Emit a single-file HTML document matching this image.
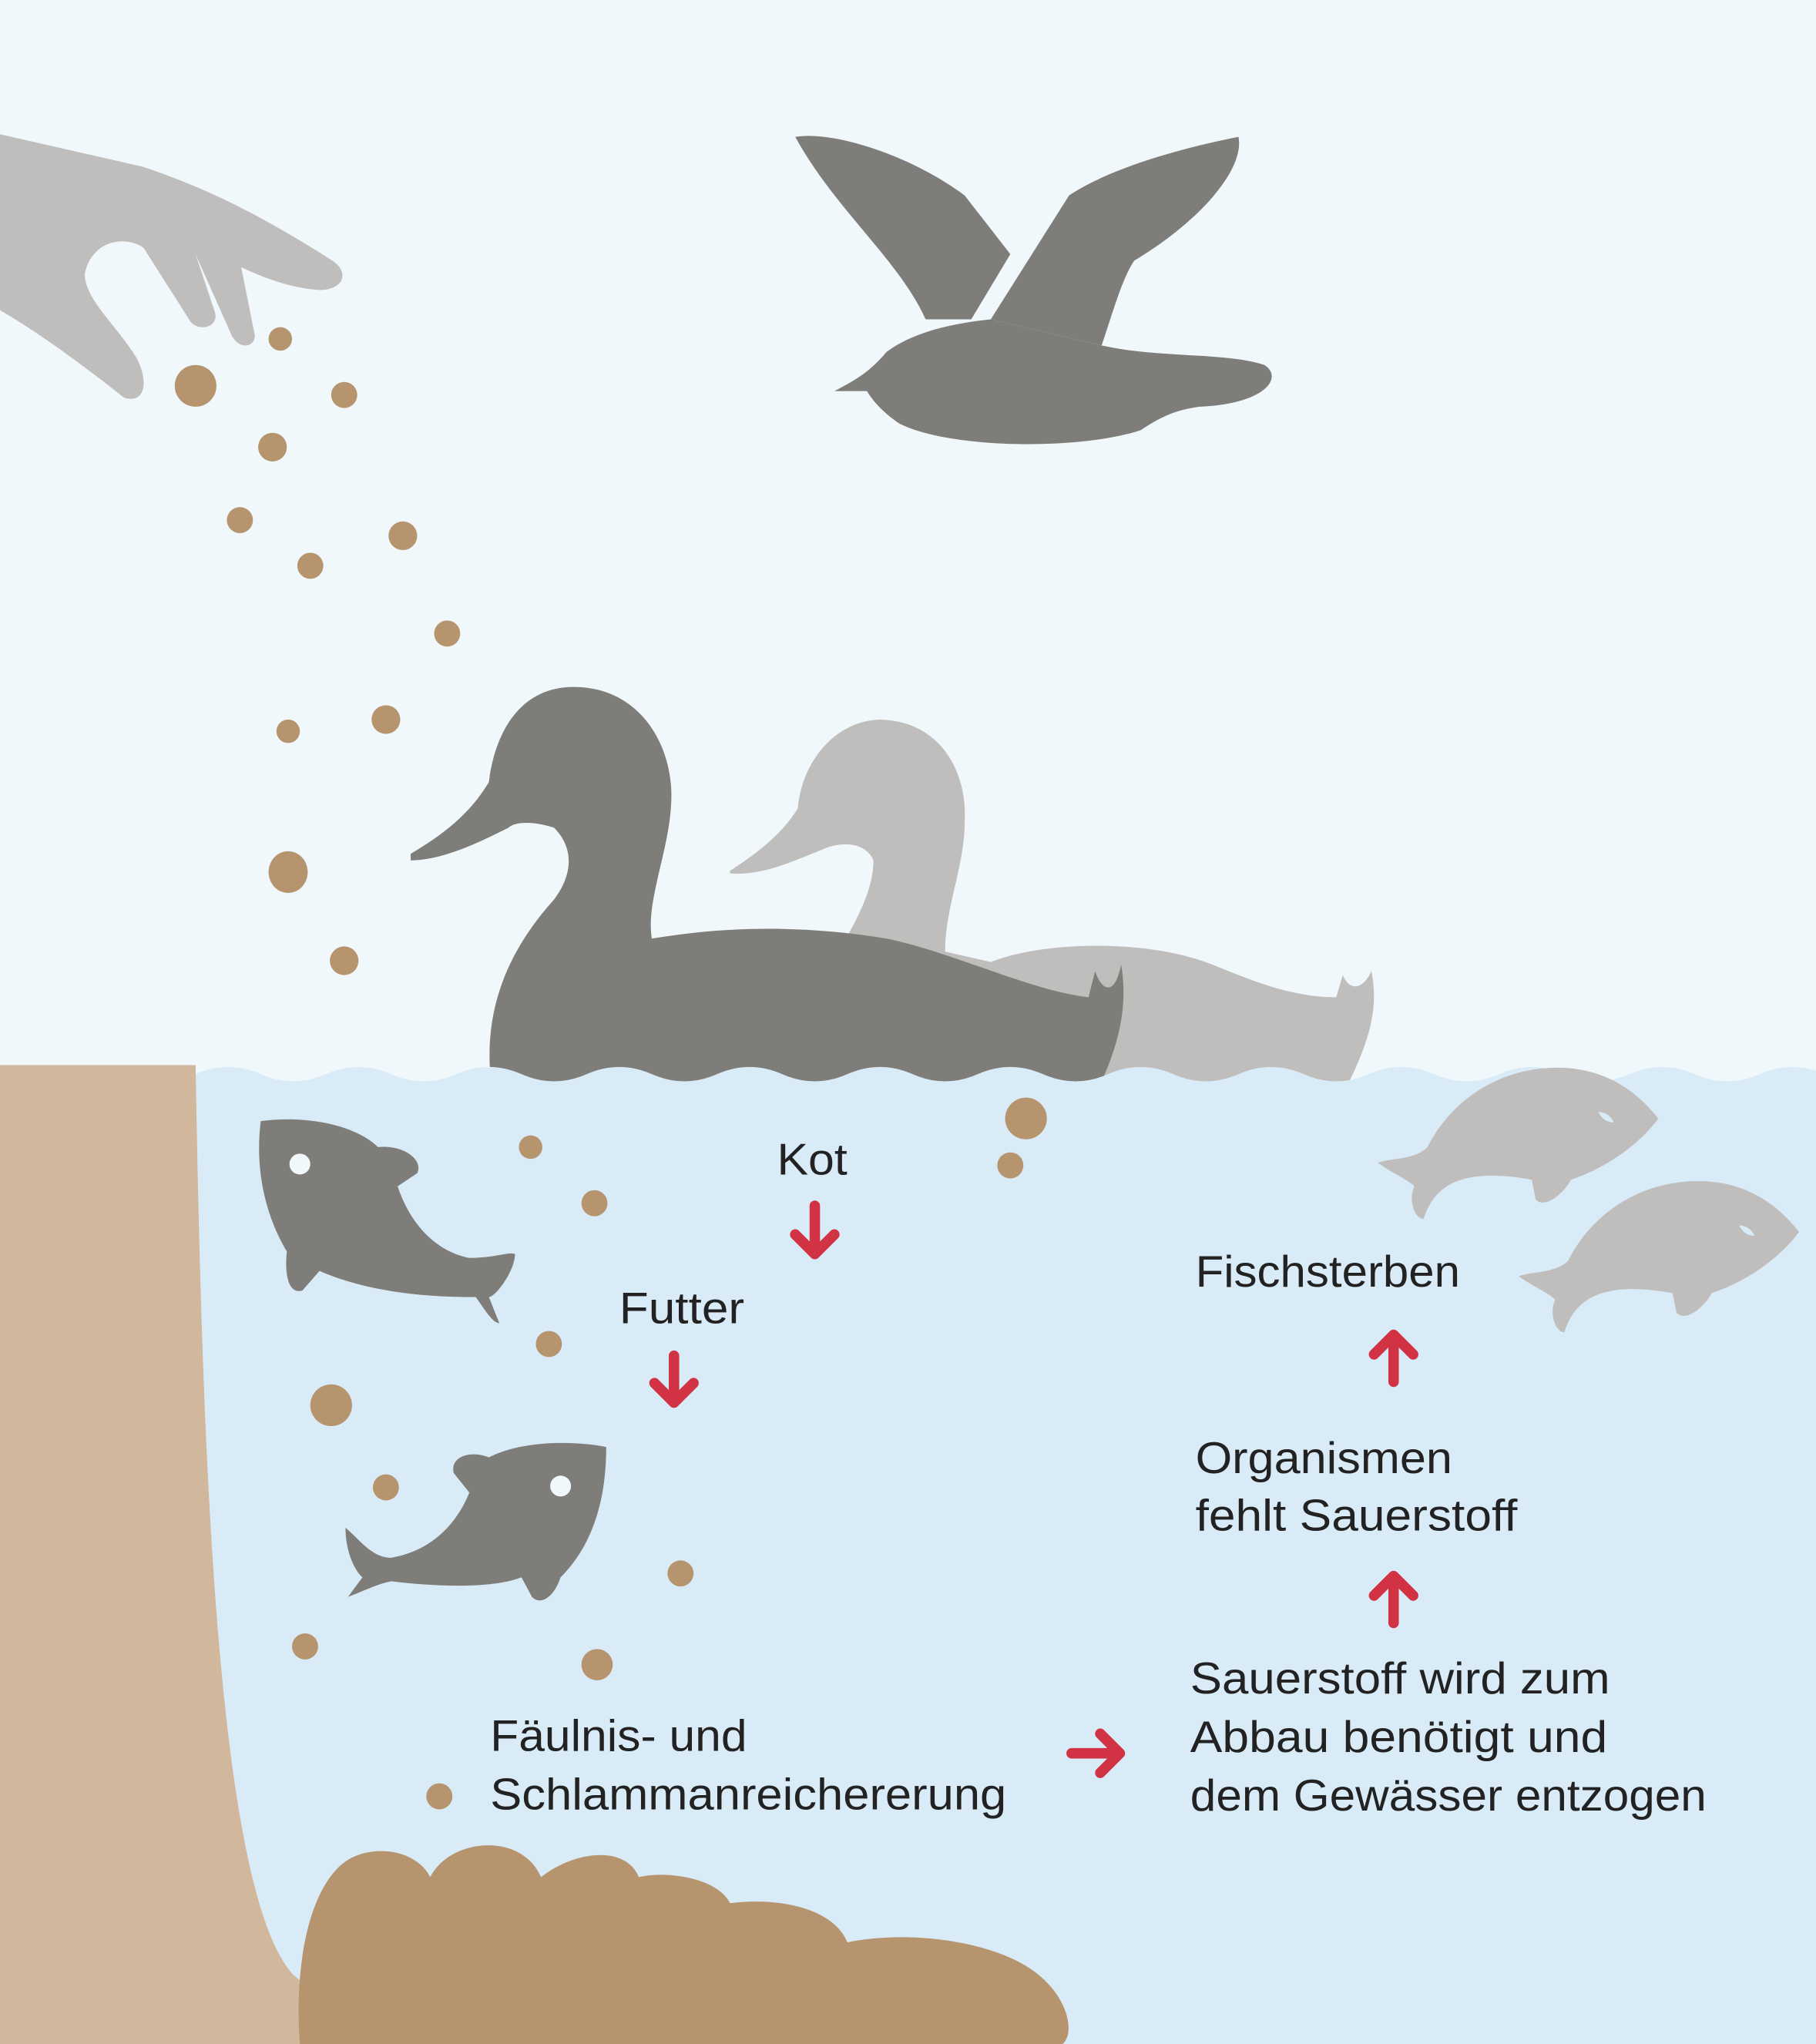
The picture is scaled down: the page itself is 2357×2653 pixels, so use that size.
<!DOCTYPE html>
<html><head><meta charset="utf-8"><style>
html,body{margin:0;padding:0;background:#f0f8fc}
svg{display:block}
text{font-family:"Liberation Sans",sans-serif;font-size:34px;fill:#222}
</style></head><body>
<svg width="2357" height="2653" viewBox="0 0 1393 1568" xmlns="http://www.w3.org/2000/svg">
<rect width="1393" height="1568" fill="#f0f8fc"/>
<!-- hand -->
<path d="M0,103 L110,128 C160,145 200,165 255,200 C270,210 262,225 240,222 C220,220 200,212 185,205 L195,255 C198,265 185,270 178,258 L150,195 L165,240 C168,252 150,255 145,245 L110,190 C95,180 70,185 65,210 C65,230 90,250 105,275 C115,295 110,310 95,305 C70,285 30,255 0,238 Z" fill="#bfbebd"/>
<!-- bird -->
<path d="M610,105 C640,100 700,120 740,150 L775,195 L745,245 L710,245 C690,200 640,160 610,105 Z" fill="#7f7d79"/>
<path d="M760,245 L820,150 C850,130 900,115 950,105 C955,130 920,170 870,200 C860,215 852,245 845,265 Z" fill="#7f7d79"/>
<path d="M640,300 C660,290 670,282 680,270 C700,255 730,248 760,245 L845,265 C890,275 940,270 970,280 C985,290 970,310 920,312 C900,315 890,320 875,330 C830,345 730,345 690,325 C675,315 668,305 665,300 Z" fill="#7f7d79"/>
<!-- light duck -->
<path d="M560,668 C580,655 600,640 612,620 C615,585 640,553 675,552 C720,553 742,590 740,630 C740,665 725,695 725,730 L760,738 C800,722 880,720 930,740 C960,752 990,765 1025,765 L1030,748 C1035,760 1045,760 1052,745 C1058,775 1050,800 1030,840 L835,840 L650,718 C660,700 670,680 670,660 C665,648 650,645 635,650 C610,660 585,672 560,670 Z" fill="#bfbebd"/>
<!-- dark duck -->
<path d="M315,655 C340,640 360,625 375,600 C380,560 400,527 440,527 C490,527 515,570 515,610 C515,650 495,690 500,720 C560,710 620,710 680,720 C730,730 790,760 835,765 L840,745 C845,760 855,765 860,740 C865,770 860,800 840,840 L378,840 C370,790 380,740 425,690 C440,670 440,650 425,635 C410,630 395,630 390,635 C370,645 340,660 315,660 Z" fill="#7f7d79"/>
<!-- water -->
<path d="M150,824 q25,-11 50,0 t50,0 t50,0 t50,0 t50,0 t50,0 t50,0 t50,0 t50,0 t50,0 t50,0 t50,0 t50,0 t50,0 t50,0 t50,0 t50,0 t50,0 t50,0 t50,0 t50,0 t50,0 t50,0 t50,0 t50,0 V1568 H150 Z" fill="#d9ebf7"/>
<!-- bank -->
<path d="M0,817 L150,817 C155,1100 165,1450 225,1515 C260,1545 300,1560 360,1568 L0,1568 Z" fill="#d1b79c"/>
<!-- sludge -->
<path d="M230,1568 C225,1500 240,1440 270,1425 C290,1415 320,1420 330,1440 C345,1410 400,1405 415,1440 C440,1420 480,1415 490,1440 C510,1435 550,1440 560,1460 C600,1455 640,1465 650,1490 C700,1480 760,1490 790,1510 C820,1530 825,1560 815,1568 Z" fill="#b5946e"/>
<!-- dark fish 1 -->
<path d="M200,860 C240,855 275,865 290,880 C310,878 325,890 320,900 L305,910 C315,940 335,960 360,965 C380,965 390,960 395,962 C395,975 380,995 375,995 L383,1015 C378,1015 372,1005 365,995 C320,995 280,990 245,975 L232,990 C222,993 218,980 220,960 C205,935 195,900 200,860 Z" fill="#7f7d79"/>
<circle cx="230" cy="893" r="8" fill="#f0f8fc"/>
<!-- dark fish 2 -->
<path d="M465,1110 C440,1105 400,1105 375,1118 C360,1112 345,1118 348,1130 L360,1145 C350,1170 330,1190 300,1195 C285,1195 275,1180 265,1172 C265,1190 272,1205 278,1210 L267,1225 C280,1220 290,1215 300,1213 C340,1218 380,1218 400,1210 L408,1225 C415,1232 425,1225 430,1210 C455,1185 465,1150 465,1110 Z" fill="#7f7d79"/>
<circle cx="430" cy="1140" r="8" fill="#f0f8fc"/>
<!-- light fish -->
<g fill="#bfbebd">
<path d="M1272,858 C1250,830 1220,815 1180,820 C1140,825 1110,850 1095,880 C1085,890 1068,888 1057,892 C1068,900 1080,905 1085,910 C1080,920 1085,935 1092,935 C1100,910 1120,895 1175,905 L1178,920 C1185,928 1200,915 1205,905 C1235,895 1260,875 1272,858 Z"/>
<path transform="translate(108,87)" d="M1272,858 C1250,830 1220,815 1180,820 C1140,825 1110,850 1095,880 C1085,890 1068,888 1057,892 C1068,900 1080,905 1085,910 C1080,920 1085,935 1092,935 C1100,910 1120,895 1175,905 L1178,920 C1185,928 1200,915 1205,905 C1235,895 1260,875 1272,858 Z"/>
</g>
<path d="M1226,853 q8,0 12,8 q-8,0 -12,-8z" fill="#d9ebf7"/>
<path d="M1334,940 q8,0 12,8 q-8,0 -12,-8z" fill="#d9ebf7"/>
<!-- pellets -->
<g fill="#b5946e">
<circle cx="215" cy="260" r="9"/><circle cx="150" cy="296" r="16"/><circle cx="264" cy="303" r="10"/><circle cx="209" cy="343" r="11"/><circle cx="184" cy="399" r="10"/><circle cx="309" cy="411" r="11"/><circle cx="238" cy="434" r="10"/><circle cx="343" cy="486" r="10"/><circle cx="296" cy="552" r="11"/><circle cx="221" cy="561" r="9"/><ellipse cx="221" cy="669" rx="15" ry="16"/><circle cx="264" cy="737" r="11"/><circle cx="787" cy="858" r="16"/><circle cx="775" cy="894" r="10"/><circle cx="407" cy="880" r="9"/><circle cx="456" cy="923" r="10"/><circle cx="421" cy="1031" r="10"/><circle cx="254" cy="1078" r="16"/><circle cx="296" cy="1141" r="10"/><circle cx="522" cy="1207" r="10"/><circle cx="234" cy="1263" r="10"/><circle cx="458" cy="1277" r="12"/><circle cx="337" cy="1378" r="10"/>
</g>
<!-- arrows -->
<g stroke="#d13345" stroke-width="8" fill="none" stroke-linecap="round" stroke-linejoin="round">
<path d="M625,925 V962 M610,947 L625,962 L640,947"/>
<path d="M517,1040 V1076 M502,1061 L517,1076 L532,1061"/>
<path d="M1069,1060 V1024 M1054,1039 L1069,1024 L1084,1039"/>
<path d="M1069,1245 V1209 M1054,1224 L1069,1209 L1084,1224"/>
<path d="M822,1345 H859 M844,1330 L859,1345 L844,1360"/>
</g>
<!-- text -->
<text x="596" y="901" textLength="54" lengthAdjust="spacingAndGlyphs">Kot</text>
<text x="475" y="1015" textLength="96" lengthAdjust="spacingAndGlyphs">Futter</text>
<text x="917" y="987" textLength="203" lengthAdjust="spacingAndGlyphs">Fischsterben</text>
<text x="917" y="1130" textLength="197" lengthAdjust="spacingAndGlyphs">Organismen</text>
<text x="917" y="1174" textLength="247" lengthAdjust="spacingAndGlyphs">fehlt Sauerstoff</text>
<text x="913" y="1299" textLength="322" lengthAdjust="spacingAndGlyphs">Sauerstoff wird zum</text>
<text x="913" y="1344" textLength="320" lengthAdjust="spacingAndGlyphs">Abbau benötigt und</text>
<text x="913" y="1389" textLength="396" lengthAdjust="spacingAndGlyphs">dem Gewässer entzogen</text>
<text x="376" y="1343" textLength="197" lengthAdjust="spacingAndGlyphs">Fäulnis- und</text>
<text x="376" y="1388" textLength="396" lengthAdjust="spacingAndGlyphs">Schlammanreichererung</text>
</svg>
</body></html>
